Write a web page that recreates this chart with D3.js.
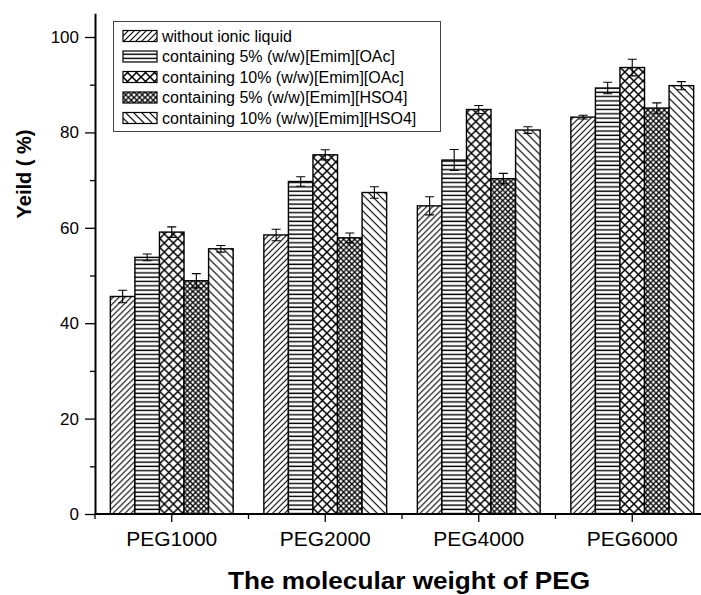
<!DOCTYPE html>
<html>
<head>
<meta charset="utf-8">
<script src="https://cdn.jsdelivr.net/npm/d3@7"></script>
<style>
	body { margin: 0; background: #fff; }
	text { font-family: "Liberation Sans", Arial, sans-serif; fill: #000; }
</style>
</head>
<body>
<div id="chart"></div>
<script>
var width = 701,
	height = 595;

// data
var categories = ['PEG1000', 'PEG2000', 'PEG4000', 'PEG6000'];
var seriesNames = [
	'without ionic liquid',
	'containing 5% (w/w)[Emim][OAc]',
	'containing 10% (w/w)[Emim][OAc]',
	'containing 5% (w/w)[Emim][HSO4]',
	'containing 10% (w/w)[Emim][HSO4]'
];
// values[series][category]
var values = [
	[45.6, 58.5, 64.6, 83.2],
	[53.8, 69.7, 74.2, 89.3],
	[59.1, 75.3, 84.8, 93.6],
	[48.9, 57.9, 70.3, 85.1],
	[55.6, 67.4, 80.5, 89.8]
];
var errors = [
	[1.3, 1.2, 1.9, 0.4],
	[0.7, 1.0, 2.2, 1.2],
	[1.1, 1.05, 0.85, 1.75],
	[1.5, 1.0, 1.1, 1.1],
	[0.7, 1.2, 0.7, 0.85]
];
var yTicks = [0, 20, 40, 60, 80, 100];
var yMinorTicks = [10, 30, 50, 70, 90];

var svg = d3.select('#chart').append('svg')
	.attr('width', width)
	.attr('height', height);

// hatch patterns
var defs = svg.append('defs');

function hatch(id, size, d, sw) {
	var p = defs.append('pattern')
		.attr('id', id)
		.attr('patternUnits', 'userSpaceOnUse')
		.attr('width', size)
		.attr('height', size);
	p.append('rect')
		.attr('width', size)
		.attr('height', size)
		.attr('fill', '#fff');
	p.append('path')
		.attr('d', d)
		.attr('stroke', '#000')
		.attr('stroke-width', sw)
		.attr('fill', 'none');
}

var s1 = 6, s3 = 9, s4 = 5.5, s5 = 8;
hatch('p0', s1, 'M0,' + s1 + 'L' + s1 + ',0M-1,1L1,-1M' + (s1 - 1) + ',' + (s1 + 1) + 'L' + (s1 + 1) + ',' + (s1 - 1), 1.1);
defs.append('pattern')
	.attr('id', 'p1')
	.attr('patternUnits', 'userSpaceOnUse')
	.attr('width', 4)
	.attr('height', 4.3)
	.call(function(p) {
		p.append('rect').attr('width', 4).attr('height', 4.3).attr('fill', '#fff');
		p.append('path').attr('d', 'M0,2L4,2').attr('stroke', '#000').attr('stroke-width', 1.4);
	});
hatch('p2', s3, 'M0,0L' + s3 + ',' + s3 + 'M0,' + s3 + 'L' + s3 + ',0', 1.5);
hatch('p3', s4, 'M0,0L' + s4 + ',' + s4 + 'M0,' + s4 + 'L' + s4 + ',0', 1.3);
hatch('p4', s5, 'M0,0L' + s5 + ',' + s5 + 'M-1,' + (s5 - 1) + 'L1,' + (s5 + 1) + 'M' + (s5 - 1) + ',-1L' + (s5 + 1) + ',1', 1.2);

var left = 95,
	bottom = 514;

var x = d3.scaleBand()
	.domain(categories)
	.range([left, left + 614])
	.paddingInner(0.2)
	.paddingOuter(0.1);

var xInner = d3.scaleBand()
	.domain(d3.range(seriesNames.length))
	.range([0, x.bandwidth()]);

var y = d3.scaleLinear()
	.domain([0, 105])
	.range([bottom, bottom - 105 * 4.77]);

// bars
var groups = svg.append('g')
	.selectAll('g.group')
	.data(categories)
	.enter()
	.append('g')
	.attr('class', 'group')
	.attr('transform', function(d) { return 'translate(' + x(d) + ',0)'; });

groups.selectAll('rect')
	.data(function(d, ci) {
		return seriesNames.map(function(n, si) {
			return { si: si, v: values[si][ci], e: errors[si][ci] };
		});
	})
	.enter()
	.append('rect')
	.attr('x', function(d) { return xInner(d.si); })
	.attr('y', function(d) { return y(d.v); })
	.attr('width', xInner.bandwidth())
	.attr('height', function(d) { return y(0) - y(d.v); })
	.attr('fill', function(d) { return 'url(#p' + d.si + ')'; })
	.attr('stroke', '#000')
	.attr('stroke-width', 1.4);

// error bars
var errG = groups.selectAll('g.err')
	.data(function(d, ci) {
		return seriesNames.map(function(n, si) {
			return { si: si, v: values[si][ci], e: errors[si][ci] };
		});
	})
	.enter()
	.append('g')
	.attr('class', 'err')
	.attr('stroke', '#000')
	.attr('stroke-width', 1.1);

errG.append('path')
	.attr('d', function(d) {
		var cx = xInner(d.si) + xInner.bandwidth() / 2,
			y1 = y(d.v + d.e),
			y2 = y(d.v - d.e);
		return 'M' + cx + ',' + y1 + 'L' + cx + ',' + y2
			+ 'M' + (cx - 4.5) + ',' + y1 + 'L' + (cx + 4.5) + ',' + y1
			+ 'M' + (cx - 4.5) + ',' + y2 + 'L' + (cx + 4.5) + ',' + y2;
	});

// y axis
var yAxis = svg.append('g')
	.attr('transform', 'translate(' + left + ',0)')
	.call(d3.axisLeft(y).tickValues(yTicks).tickSize(10).tickPadding(6).tickSizeOuter(0));
yAxis.selectAll('text')
	.style('font-size', '17px')
	.style('font-family', '"Liberation Sans", Arial, sans-serif');
yAxis.select('.domain').attr('stroke-width', 2);
yAxis.selectAll('.tick line').attr('stroke-width', 1.3);
svg.append('g')
	.attr('transform', 'translate(' + left + ',0)')
	.call(d3.axisLeft(y).tickValues(yMinorTicks).tickSize(5).tickFormat(''))
	.call(function(g) { g.select('.domain').remove(); })
	.selectAll('.tick line').attr('stroke-width', 1.3);

// x axis
var xAxis = svg.append('g')
	.attr('transform', 'translate(0,' + bottom + ')')
	.call(d3.axisBottom(x).tickSize(8).tickPadding(9).tickSizeOuter(0));
xAxis.select('.domain')
	.attr('d', 'M' + left + ',0H' + (left + 614))
	.attr('stroke-width', 2);
xAxis.selectAll('.tick line').attr('stroke-width', 1.3);
xAxis.selectAll('text')
	.style('font-size', '21px')
	.style('font-family', '"Liberation Sans", Arial, sans-serif');

// minor x ticks at band edges
svg.append('g')
	.selectAll('line')
	.data(d3.range(categories.length + 1))
	.enter()
	.append('line')
	.attr('x1', function(i) { return left + i * x.step(); })
	.attr('x2', function(i) { return left + i * x.step(); })
	.attr('y1', bottom)
	.attr('y2', bottom + 5)
	.attr('stroke', '#000')
	.attr('stroke-width', 1.3);

// axis titles
svg.append('text')
	.attr('x', 409)
	.attr('y', 588.5)
	.attr('text-anchor', 'middle')
	.attr('textLength', 362)
	.attr('lengthAdjust', 'spacingAndGlyphs')
	.style('font-size', '23px')
	.style('font-weight', 'bold')
	.text('The molecular weight of PEG');

svg.append('text')
	.attr('transform', 'translate(31,174) rotate(-90)')
	.attr('text-anchor', 'middle')
	.style('font-size', '20px')
	.style('font-weight', 'bold')
	.text('Yeild ( %)');

// legend
var legend = svg.append('g');
legend.append('rect')
	.attr('x', 113.5)
	.attr('y', 21.5)
	.attr('width', 327)
	.attr('height', 110)
	.attr('fill', '#fff')
	.attr('stroke', '#444')
	.attr('stroke-width', 1);

var items = legend.selectAll('g.item')
	.data(seriesNames)
	.enter()
	.append('g')
	.attr('class', 'item')
	.attr('transform', function(d, i) { return 'translate(123,' + (36 + i * 20.5) + ')'; });

items.append('rect')
	.attr('x', 0)
	.attr('y', -5.5)
	.attr('width', 34)
	.attr('height', 11)
	.attr('fill', function(d, i) { return 'url(#p' + i + ')'; })
	.attr('stroke', '#000')
	.attr('stroke-width', 1.2);

items.append('text')
	.attr('x', 39)
	.attr('y', 0)
	.attr('dy', '0.36em')
	.style('font-size', '16px')
	.text(function(d) { return d; });
</script>
</body>
</html>
